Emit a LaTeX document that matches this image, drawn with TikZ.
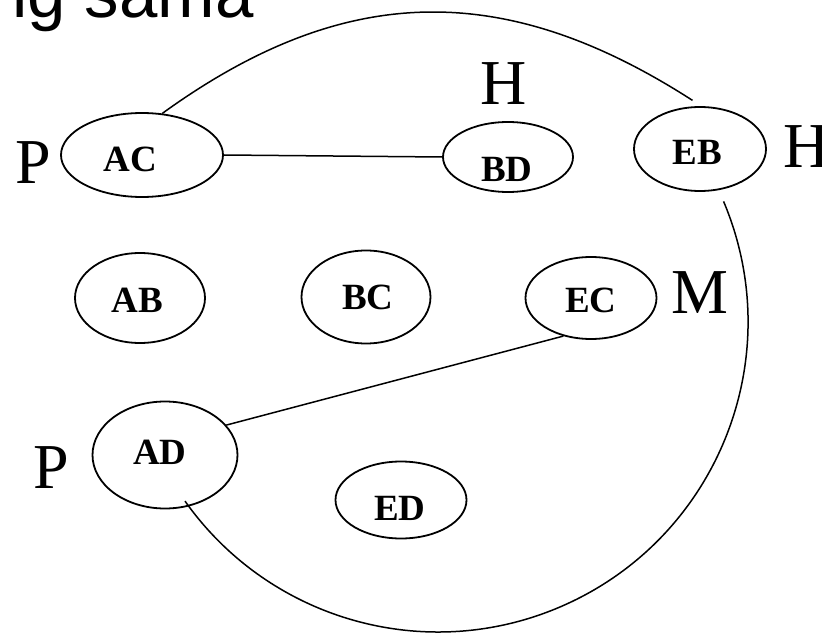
\documentclass[tikz,border=0pt]{standalone}
\usepackage{fontspec}
\setmainfont{Liberation Serif}
\newfontfamily\arialfont{Liberation Sans}
\usetikzlibrary{shapes.geometric}

\begin{document}
\begin{tikzpicture}[x=1pt,y=1pt,
  setnode/.style={ellipse, draw, line width=1.8pt, inner sep=0pt},
  tag/.style={font=\bfseries\fontsize{37}{37}\selectfont, inner sep=0pt},
  lab/.style={font=\fontsize{64}{64}\selectfont, inner sep=0pt},
  edge/.style={line width=1.5pt}]
\useasboundingbox (0,0) rectangle (822,-636);

% heading, partly above the page
\node[anchor=base west, inner sep=0pt, font=\arialfont\fontsize{69}{69}\selectfont] (head) at (12,-18) {ig sama};

% the sets
\node[setnode, minimum width=162pt, minimum height=84pt] (AC) at (142,-155) {};
\node[setnode, minimum width=130pt, minimum height=70pt] (BD) at (508,-157) {};
\node[setnode, minimum width=132pt, minimum height=84pt] (EB) at (700,-149) {};
\node[setnode, minimum width=130pt, minimum height=90pt] (AB) at (140,-298) {};
\node[setnode, minimum width=129pt, minimum height=93pt] (BC) at (366,-297) {};
\node[setnode, minimum width=131pt, minimum height=82pt] (EC) at (591,-298) {};
\node[setnode, minimum width=145pt, minimum height=107pt] (AD) at (165,-455) {};
\node[setnode, minimum width=131pt, minimum height=77pt] (ED) at (401,-500) {};

% names inside the sets
\node[tag] (tAC) at (130.5,-159.5) {AC};
\node[tag] (tBD) at (507,-169) {BD};
\node[tag] (tEB) at (697.5,-152) {EB};
\node[tag] (tAB) at (137,-300) {AB};
\node[tag] (tBC) at (368,-297) {BC};
\node[tag] (tEC) at (591,-300) {EC};
\node[tag] (tAD) at (160,-452) {AD};
\node[tag] (tED) at (400,-508) {ED};

% letters beside the sets
\node[lab] (pAC) at (33,-163) {P};
\node[lab] (pAD) at (51,-468) {P};
\node[lab] (hBD) at (504,-84) {H};
\node[lab] (hEB) at (807,-147) {H};
\node[lab] (mEC) at (700,-293) {M};

% connections
\draw[edge] (AC.east) -- (BD.west);
\draw[edge] (AD.26) -- (EC.234);
\draw[edge] (AC.64) .. controls (344,18) and (504,21) .. ([yshift=6pt]EB.100);
\coordinate (ring) at (438,-322);
\draw[edge] ([shift={(22.9:310)}]ring) arc[start angle=22.9, end angle=-144.7, radius=310];
\end{tikzpicture}
\end{document}
